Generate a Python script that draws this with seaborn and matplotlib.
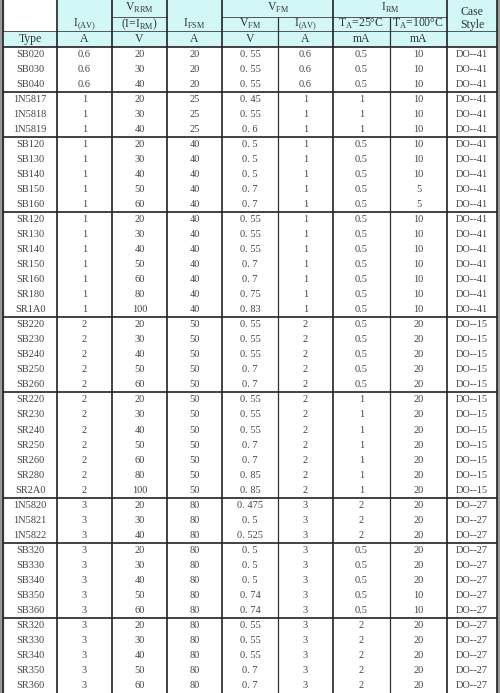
import seaborn as sns
import matplotlib.pyplot as plt

sns.set_theme(style="white")
plt.rcParams['font.family'] = ['Liberation Serif', 'Noto Sans CJK SC', 'DejaVu Sans']
plt.rcParams['mathtext.fontset'] = 'custom'
plt.rcParams['mathtext.rm'] = 'Liberation Serif'

types = ["SB020", "SB030", "SB040", "1N5817", "1N5818", "1N5819",
         "SB120", "SB130", "SB140", "SB150", "SB160",
         "SR120", "SR130", "SR140", "SR150", "SR160", "SR180", "SR1A0",
         "SB220", "SB230", "SB240", "SB250", "SB260",
         "SR220", "SR230", "SR240", "SR250", "SR260", "SR280", "SR2A0",
         "1N5820", "1N5821", "1N5822",
         "SB320", "SB330", "SB340", "SB350", "SB360",
         "SR320", "SR330", "SR340", "SR350", "SR360"]
i_av = ["0.6"] * 3 + ["1"] * 15 + ["2"] * 12 + ["3"] * 13
v_rrm = ["20", "30", "40", "20", "30", "40",
         "20", "30", "40", "50", "60",
         "20", "30", "40", "50", "60", "80", "100",
         "20", "30", "40", "50", "60",
         "20", "30", "40", "50", "60", "80", "100",
         "20", "30", "40",
         "20", "30", "40", "50", "60",
         "20", "30", "40", "50", "60"]
i_fsm = ["20"] * 3 + ["25"] * 3 + ["40"] * 12 + ["50"] * 12 + ["80"] * 13
v_fm = ["0. 55", "0. 55", "0. 55", "0. 45", "0. 55", "0. 6",
        "0. 5", "0. 5", "0. 5", "0. 7", "0. 7",
        "0. 55", "0. 55", "0. 55", "0. 7", "0. 7", "0. 75", "0. 83",
        "0. 55", "0. 55", "0. 55", "0. 7", "0. 7",
        "0. 55", "0. 55", "0. 55", "0. 7", "0. 7", "0. 85", "0. 85",
        "0. 475", "0. 5", "0. 525",
        "0. 5", "0. 5", "0. 5", "0. 74", "0. 74",
        "0. 55", "0. 55", "0. 55", "0. 7", "0. 7"]
i_fm = i_av
i_rm25 = ["0.5"] * 3 + ["1"] * 3 + ["0.5"] * 17 + ["1"] * 7 + ["2"] * 3 + ["0.5"] * 5 + ["2"] * 5
i_rm100 = ["10"] * 9 + ["5", "5"] + ["10"] * 7 + ["20"] * 18 + ["10", "10"] + ["20"] * 5
case = ["DO--41"] * 18 + ["DO--15"] * 12 + ["DO--27"] * 13
group_ends = [3, 6, 11, 18, 23, 30, 33, 38]

cols = [types, i_av, v_rrm, i_fsm, v_fm, i_fm, i_rm25, i_rm100, case]
xb = [3, 57, 112, 167, 222, 278, 333, 390, 447, 497]
y0, rh = 47, 15.02

fig = plt.figure(figsize=(5, 6.93), dpi=100)
ax = fig.add_axes([0, 0, 1, 1])
ax.set_xlim(0, 500)
ax.set_ylim(693, 0)
ax.axis("off")

cyan = "#d2f7f7"
ax.axvspan(0, 3, color="#9a9a9a")
ax.axvspan(497, 500, color="#9a9a9a")
ax.fill_between([xb[1], xb[-1]], 0, y0, color=cyan, lw=0)
ax.fill_between([xb[0], xb[1]], 31, y0, color=cyan, lw=0)

# header lines
ax.hlines(y0, xb[0], xb[-1], color="#222", lw=1.2)
ax.hlines(31, xb[0], xb[-1], color="#555", lw=0.7)
for a, b in [(2, 3), (4, 6), (6, 8)]:
    ax.hlines(17, xb[a], xb[b], color="#555", lw=0.7)
for i, x in enumerate(xb):
    if i in (5, 7):
        ax.vlines(x, 17, 693, color="#333", lw=0.9)
    else:
        ax.vlines(x, 0, 693, color="#222", lw=1.2)

hs = dict(ha="center", va="center", fontsize=8.5, color="#333")
ax.text(30, 39, "Type", **hs)
ax.text(84, 24, r"I$_{\rm(AV)}$", **hs)
ax.text(139, 8, r"V$_{\rm RRM}$", **hs)
ax.text(139, 24, r"(I=I$_{\rm RM}$)", **hs)
ax.text(194, 24, r"I$_{\rm FSM}$", **hs)
ax.text(278, 8, r"V$_{\rm FM}$", **hs)
ax.text(250, 24, r"V$_{\rm FM}$", **hs)
ax.text(305, 24, r"I$_{\rm(AV)}$", **hs)
ax.text(390, 8, r"I$_{\rm RM}$", **hs)
ax.text(361, 24, r"T$_{\rm A}$=25°C", **hs)
ax.text(418, 24, r"T$_{\rm A}$=100°C", **hs)
ax.text(472, 12, "Case", **hs)
ax.text(472, 25, "Style", **hs)
for i, u in enumerate(["A", "V", "A", "V", "A", "mA", "mA"]):
    ax.text((xb[i + 1] + xb[i + 2]) / 2, 39, u, **hs)

# body
for c, vals in enumerate(cols):
    xc = (xb[c] + xb[c + 1]) / 2
    for r, v in enumerate(vals):
        ax.text(xc, y0 + (r + 0.5) * rh, v, ha="center", va="center",
                fontsize=7.5, color="#444")
for g in group_ends:
    ax.hlines(y0 + g * rh, xb[0], xb[-1], color="#222", lw=1.2)

fig.savefig("out.png", dpi=100)
